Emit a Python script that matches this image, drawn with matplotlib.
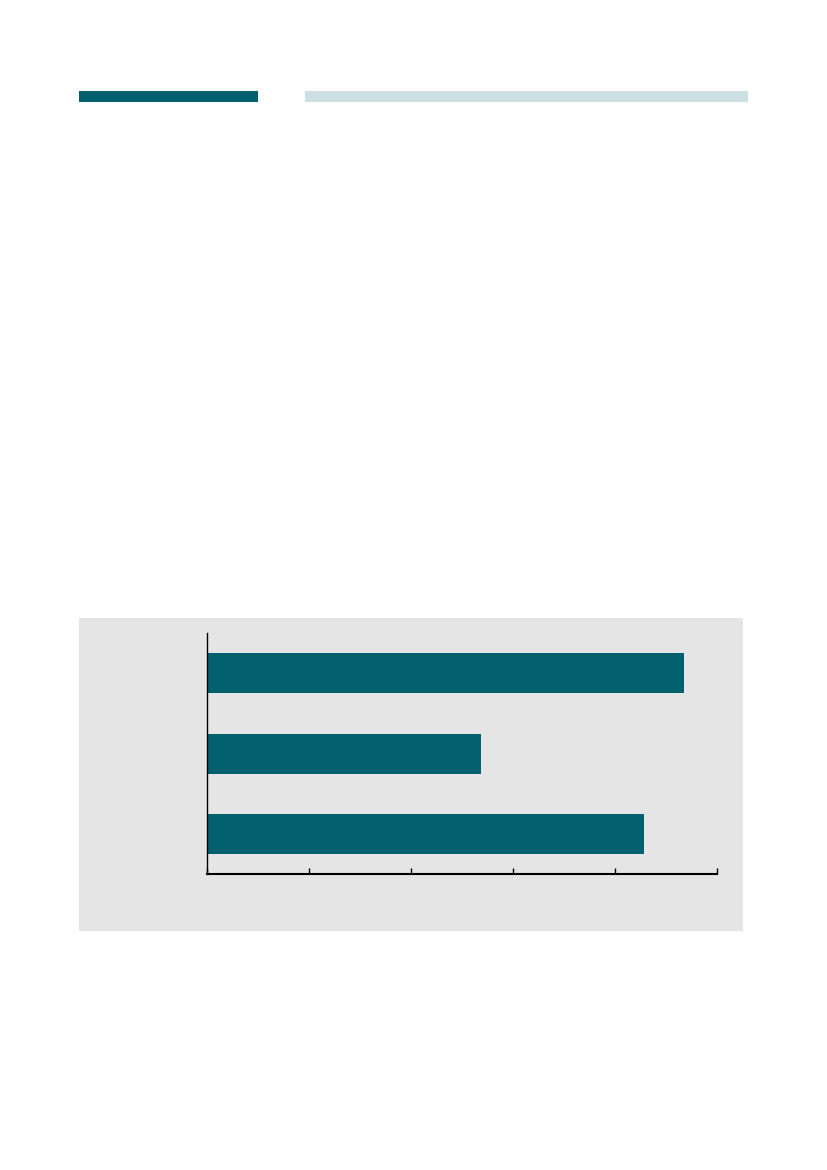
import matplotlib
matplotlib.use("Agg")
import matplotlib.pyplot as plt
from matplotlib.patches import Rectangle


# data (x axis 0-100, ticks every 20, no labels)
categories = ["A", "B", "C"]
values = [93.6, 53.7, 85.7]
x_ticks = [0, 20, 40, 60, 80, 100]

BAR_COLOR = "#03616F"
LIGHT_COLOR = "#CCDFE3"
PANEL_COLOR = "#E5E5E5"

W, H = 827, 1170


def fig_box(x0, y0, x1, y1):
    """pixel box (top-left origin) -> figure fraction [left, bottom, width, height]"""
    return [x0 / W, 1 - y1 / H, (x1 - x0) / W, (y1 - y0) / H]


fig = plt.figure(figsize=(W / 100, H / 100), dpi=100, facecolor="white")

# header rules
for (x0, y0, x1, y1), color in [
    ((79, 91, 258, 102), BAR_COLOR),
    ((305, 91, 748, 102), LIGHT_COLOR),
]:
    left, bottom, width, height = fig_box(x0, y0, x1, y1)
    fig.patches.append(
        Rectangle((left, bottom), width, height, transform=fig.transFigure,
                  facecolor=color, edgecolor="none", zorder=0)
    )

# grey panel behind the chart
left, bottom, width, height = fig_box(79, 618, 743, 931)
fig.patches.append(
    Rectangle((left, bottom), width, height, transform=fig.transFigure,
              facecolor=PANEL_COLOR, edgecolor="none", zorder=0)
)

ax = fig.add_axes(fig_box(207, 633.3, 717, 874))
ax.set_zorder(5)
ax.set_facecolor("none")

positions = list(range(len(categories)))
ax.barh(positions, values, height=0.5, color=BAR_COLOR, edgecolor="none")

ax.set_xlim(x_ticks[0], x_ticks[-1])
ax.set_ylim(len(categories) - 0.5, -0.5)
ax.set_xticks(x_ticks)
ax.set_xticklabels([])
ax.set_yticks([])

ax.tick_params(axis="x", direction="in", length=4, width=1, color="black")
for side in ["top", "right"]:
    ax.spines[side].set_visible(False)
ax.spines["left"].set_linewidth(1)
ax.spines["bottom"].set_linewidth(1.5)

fig.savefig("out.png", dpi=100, facecolor="white")
